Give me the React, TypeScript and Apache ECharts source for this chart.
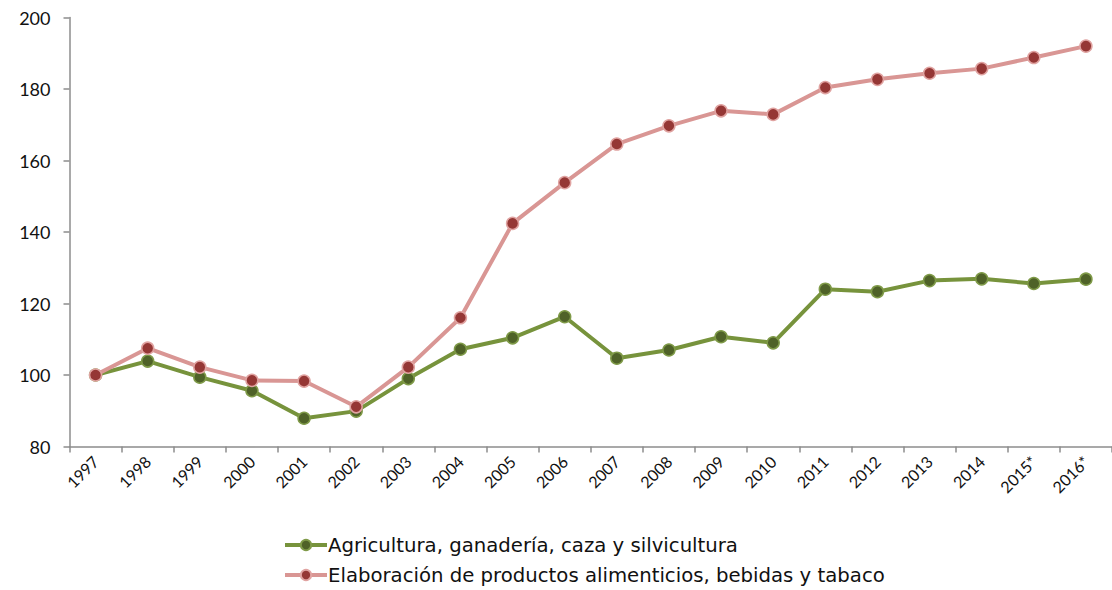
import React, { useEffect, useRef } from "react";
import * as echarts from "echarts";

const years = ["1997", "1998", "1999", "2000", "2001", "2002", "2003", "2004", "2005", "2006", "2007", "2008", "2009", "2010", "2011", "2012", "2013", "2014", "2015*", "2016*"];
const agricultura = [100, 103.9, 99.4, 95.6, 87.9, 89.9, 99.0, 107.2, 110.4, 116.3, 104.7, 107.0, 110.7, 109.0, 124.0, 123.3, 126.4, 126.9, 125.6, 126.8];
const elaboracion = [100, 107.5, 102.2, 98.5, 98.3, 91.1, 102.2, 116.0, 142.4, 153.8, 164.6, 169.7, 173.9, 172.9, 180.4, 182.7, 184.4, 185.7, 188.8, 192.0];
const seriesNames = ["Agricultura, ganadería, caza y silvicultura", "Elaboración de productos alimenticios, bebidas y tabaco"];
const yMin = 80;
const yMax = 200;
const yInterval = 20;

export default function App() {
  const ref = useRef<HTMLDivElement>(null);
  useEffect(() => {
    if (!ref.current) return;
    const chart = echarts.init(ref.current, undefined, { renderer: "svg" });
    const axisColor = "#8c8c8c";
    chart.setOption({
      animation: false,
      backgroundColor: "#ffffff",
      grid: { left: 69.5, top: 17.5, width: 1052, height: 429, containLabel: false },
      legend: {
        orient: "vertical",
        left: 283,
        top: 535,
        height: 70,
        padding: 0,
        itemWidth: 42,
        itemHeight: 13,
        itemGap: 10,
        textStyle: { fontFamily: "DejaVu Sans", fontSize: 19.7, color: "#111", padding: [0, 0, 0, -4] },
        data: [
          { name: seriesNames[0], lineStyle: { width: 4 } },
          { name: seriesNames[1], lineStyle: { width: 4 } },
        ],
      },
      xAxis: {
        type: "category",
        data: years,
        boundaryGap: true,
        axisLine: { lineStyle: { color: axisColor, width: 1.5 } },
        axisTick: { show: true, alignWithLabel: false, length: 6, lineStyle: { color: axisColor, width: 1.5 } },
        axisLabel: {
          rotate: 45,
          interval: 0,
          margin: 12,
          fontFamily: "Lato",
          fontSize: 16,
          color: "#111",
        },
        splitLine: { show: false },
      },
      yAxis: {
        type: "value",
        min: yMin,
        max: yMax,
        interval: yInterval,
        axisLine: { show: true, lineStyle: { color: axisColor, width: 1.5 } },
        axisTick: { show: true, length: 6, lineStyle: { color: axisColor, width: 1.5 } },
        axisLabel: { margin: 19, fontFamily: "Lato", fontSize: 18, color: "#111" },
        splitLine: { show: false },
      },
      series: [
        {
          name: seriesNames[0],
          type: "line",
          data: agricultura,
          symbol: "circle",
          symbolSize: 12,
          lineStyle: { color: "#77933C", width: 4 },
          itemStyle: { color: "#4F6228", borderColor: "#7F9A48", borderWidth: 1.5 },
          z: 2,
        },
        {
          name: seriesNames[1],
          type: "line",
          data: elaboracion,
          symbol: "circle",
          symbolSize: 12,
          lineStyle: { color: "#D99694", width: 4 },
          itemStyle: { color: "#953735", borderColor: "#E0A3A1", borderWidth: 1.5 },
          z: 3,
        },
      ],
    });
    return () => chart.dispose();
  }, []);
  return <div ref={ref} style={{ position: "absolute", left: 0, top: 0, width: 1112, height: 590, overflow: "hidden" }} />;
}
